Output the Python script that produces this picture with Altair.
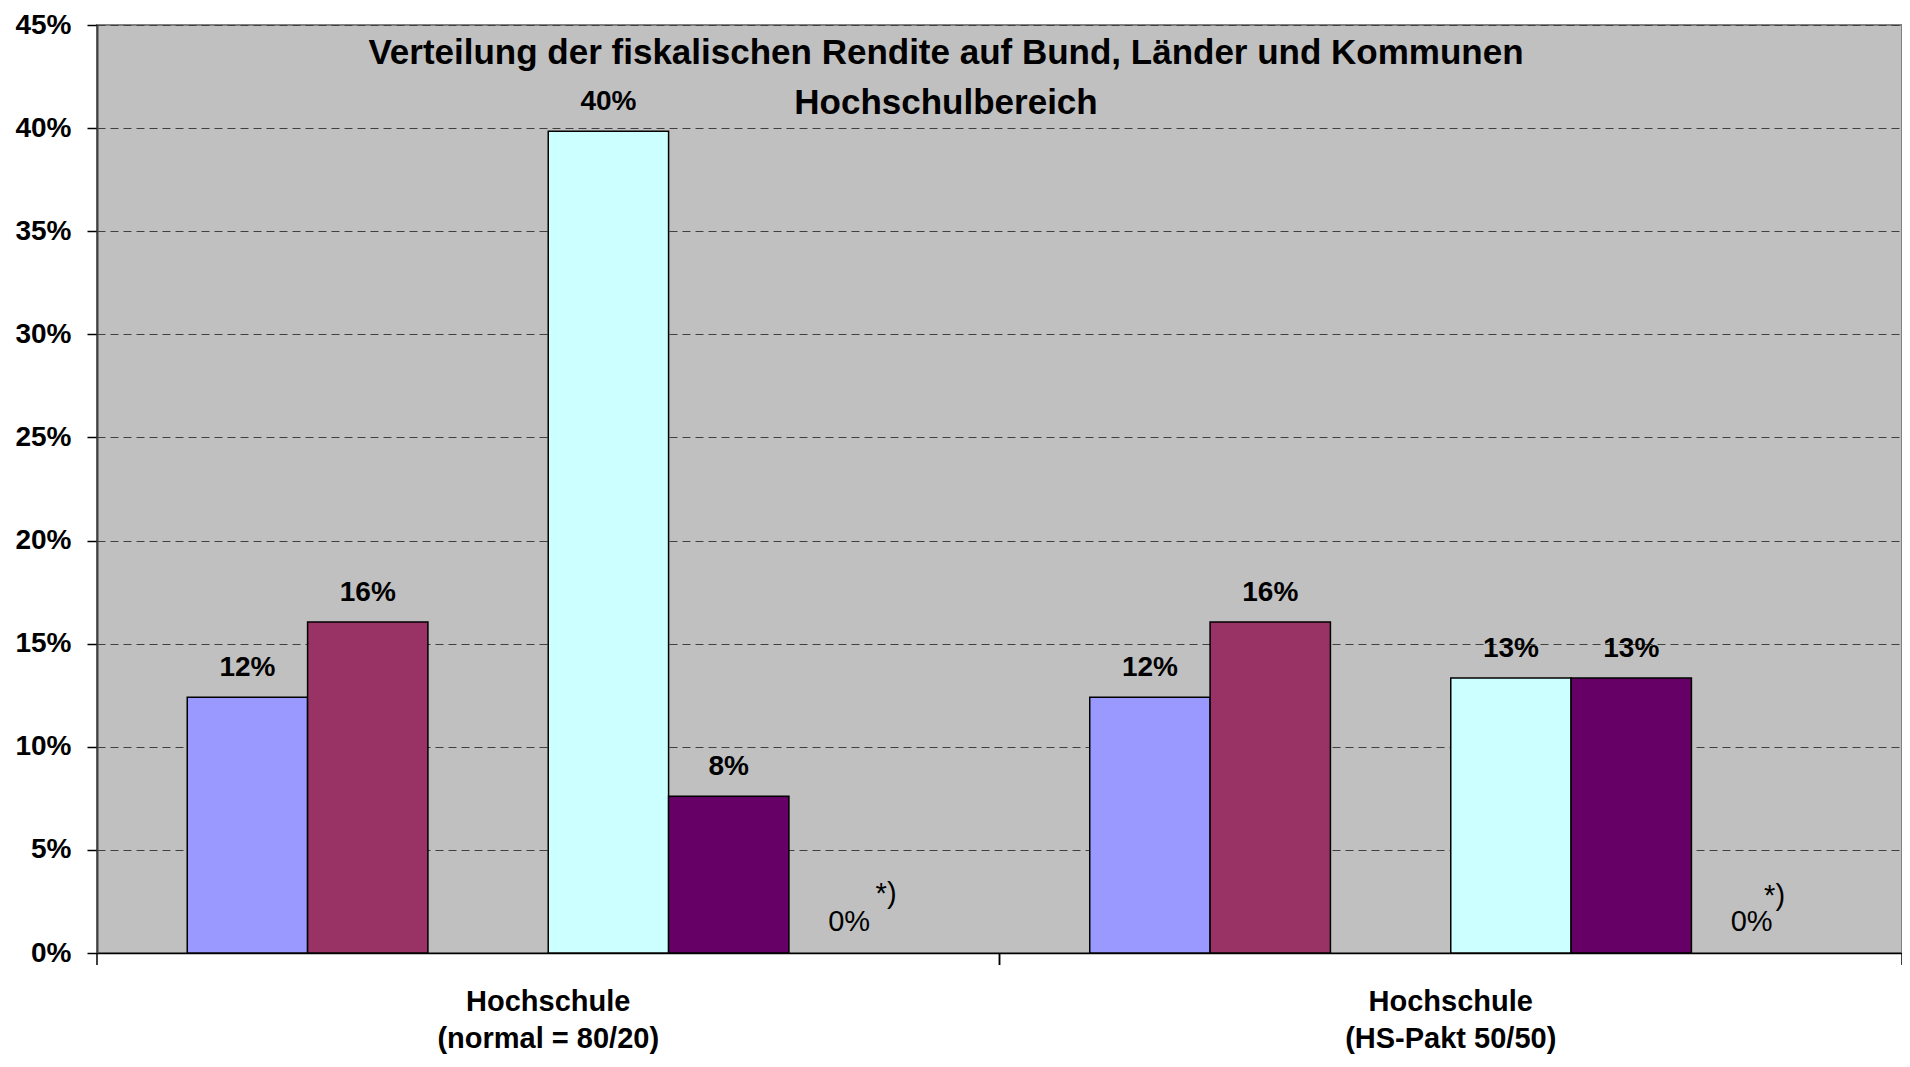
import altair as alt
import pandas as pd

groups = ["Hochschule|(normal = 80/20)", "Hochschule|(HS-Pakt 50/50)"]
series = ["Reihe 1", "Reihe 2", "Reihe 3", "Reihe 4", "Reihe 5", "Reihe 6"]
values_normal = [0.124, 0.1605, None, 0.3985, 0.076, 0.0]
values_pakt = [0.124, 0.1605, None, 0.1333, 0.1333, 0.0]
colors = ["#9999FF", "#993366", "#FFFFCC", "#CCFFFF", "#660066", "#FF8080"]
title_lines = ["Verteilung der fiskalischen Rendite auf Bund, Länder und Kommunen", "Hochschulbereich"]
footnote = "*)"
y_ticks = [0, 0.05, 0.10, 0.15, 0.20, 0.25, 0.30, 0.35, 0.40, 0.45]

FONT = "Liberation Sans"
W, H = 1805, 928

rows = []
for g, vals in zip(groups, [values_normal, values_pakt]):
    for s, v in zip(series, vals):
        if v is not None:
            rows.append({"group": g, "series": s, "value": v})
df = pd.DataFrame(rows)

x_enc = alt.X(
    "group:N", sort=groups,
    scale=alt.Scale(paddingInner=0, paddingOuter=0),
    axis=alt.Axis(
        title=None, labelExpr="split(datum.label, '|')", labelAngle=0,
        ticks=False, tickSize=0, labelPadding=57, labelBaseline="alphabetic",
        labelLineHeight=37, labelLimit=0, labelFont=FONT, labelFontSize=29,
        labelFontWeight="bold", labelColor="black", domainColor="black",
        domainWidth=1.5, grid=False,
    ),
)
xo_enc = alt.XOffset(
    "series:N", sort=series,
    scale=alt.Scale(domain=series, paddingInner=0, paddingOuter=0.75),
)
y_enc = alt.Y(
    "value:Q",
    scale=alt.Scale(domain=[0, 0.45], nice=False, zero=True),
    axis=alt.Axis(
        title=None, values=y_ticks, format=".0%", labelFont=FONT, labelFontSize=28,
        labelFontWeight="bold", labelColor="black", tickSize=10, tickColor="black",
        tickWidth=1.5, labelPadding=16, domainColor="#404040", domainWidth=2,
        grid=True, gridColor="#404040", gridDash=[8, 5], gridWidth=1,
    ),
)

base = alt.Chart(df)

bars = base.transform_filter("datum.value > 0").mark_bar(
    stroke="black", strokeWidth=1.5
).encode(
    x=x_enc, xOffset=xo_enc, y=y_enc,
    color=alt.Color("series:N", scale=alt.Scale(domain=series, range=colors), legend=None),
)

labels = base.transform_filter("datum.value > 0").mark_text(
    font=FONT, fontSize=28, fontWeight="bold", color="black",
    baseline="alphabetic", dy=-21,
).encode(
    x=alt.X("group:N", sort=groups), xOffset=xo_enc, y="value:Q",
    text=alt.Text("value:Q", format=".0%"),
)

zero_labels = base.transform_filter("datum.value == 0").mark_text(
    font=FONT, fontSize=29, color="black", baseline="alphabetic", dy=-22,
).encode(
    x=alt.X("group:N", sort=groups), xOffset=xo_enc, y="value:Q",
    text=alt.Text("value:Q", format=".0%"),
)

foot1 = base.transform_filter(
    f"datum.value == 0 && datum.group == '{groups[0]}'"
).mark_text(
    text=footnote, font=FONT, fontSize=29, color="black", baseline="alphabetic",
    dx=37, dy=-50,
).encode(x=alt.X("group:N", sort=groups), xOffset=xo_enc, y="value:Q")

foot2 = base.transform_filter(
    f"datum.value == 0 && datum.group == '{groups[1]}'"
).mark_text(
    text=footnote, font=FONT, fontSize=29, color="black", baseline="alphabetic",
    dx=23, dy=-48,
).encode(x=alt.X("group:N", sort=groups), xOffset=xo_enc, y="value:Q")

tick_df = pd.DataFrame({"group": groups})
ticks0 = alt.Chart(tick_df).mark_rule(color="black", strokeWidth=1.5).encode(
    x=alt.X("group:N", sort=groups, bandPosition=0),
    y=alt.value(H), y2=alt.value(H + 12),
)
ticks1 = alt.Chart(tick_df).mark_rule(color="black", strokeWidth=1.5).encode(
    x=alt.X("group:N", sort=groups, bandPosition=1),
    y=alt.value(H), y2=alt.value(H + 12),
)

title = alt.Chart(pd.DataFrame({"t": [0]})).mark_text(
    text=title_lines, font=FONT, fontSize=35, fontWeight="bold", color="black",
    baseline="alphabetic", align="center", lineHeight=50,
).encode(x=alt.value(849), y=alt.value(39))

chart = alt.layer(
    bars, labels, zero_labels, foot1, foot2, ticks0, ticks1, title
).properties(
    width=W, height=H,
    autosize=alt.AutoSizeParams(type="none"),
    padding={"left": 89, "top": 17, "right": 0, "bottom": 102},
    background="white",
).configure_view(
    fill="#C0C0C0", stroke="#808080", strokeWidth=2,
)

chart.save("out.html", embed_options={"renderer": "svg", "actions": False})
